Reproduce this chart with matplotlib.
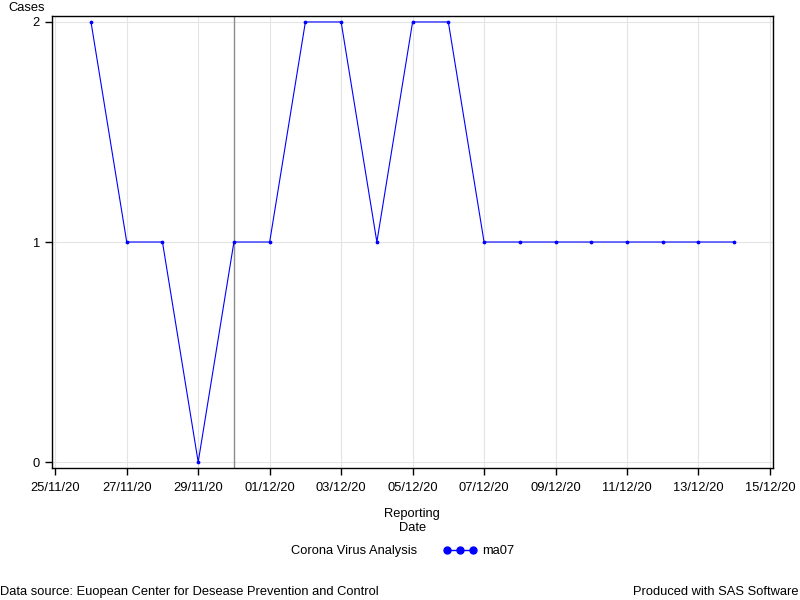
import matplotlib
matplotlib.use("Agg")
import matplotlib.pyplot as plt
import matplotlib.dates as mdates
from matplotlib.lines import Line2D
import numpy as np
import datetime as dt

plt.rcParams['font.family'] = ['Liberation Sans', 'DejaVu Sans']

dates = ["2020-11-26", "2020-11-27", "2020-11-28", "2020-11-29", "2020-11-30",
         "2020-12-01", "2020-12-02", "2020-12-03", "2020-12-04", "2020-12-05",
         "2020-12-06", "2020-12-07", "2020-12-08", "2020-12-09", "2020-12-10",
         "2020-12-11", "2020-12-12", "2020-12-13", "2020-12-14"]
ma07 = [2, 1, 1, 0, 1, 1, 2, 2, 1, 2, 2, 1, 1, 1, 1, 1, 1, 1, 1]
ref_date = "2020-11-30"
y_ticks = [0, 1, 2]

x = [dt.datetime.strptime(d, "%Y-%m-%d") for d in dates]
FS = 9.25

fig = plt.figure(figsize=(8, 6), dpi=100)
ax = fig.add_axes([0.0646, 0.22, 0.9014, 0.7533])

ax.plot(x, ma07, color='#0000ff', lw=0.8, marker='o', ms=1.7, zorder=3)
ax.axvline(dt.datetime.strptime(ref_date, "%Y-%m-%d"), color='#8c8c8c', lw=1.0, zorder=2)

ax.set_xlim(dt.datetime(2020, 11, 25) - dt.timedelta(days=0.1),
            dt.datetime(2020, 12, 15) + dt.timedelta(days=0.08))
ax.set_ylim(-0.027, 2.027)
ax.set_yticks(y_ticks)
ax.xaxis.set_major_locator(mdates.DayLocator(bymonthday=[25, 27, 29, 1, 3, 5, 7, 9, 11, 13, 15]))
ax.xaxis.set_major_formatter(mdates.DateFormatter("%d/%m/%y"))
ax.grid(True, color='#e4e4e4', lw=0.8, zorder=0)
ax.set_axisbelow(True)
ax.tick_params(direction='out', length=5, width=1, labelsize=FS, colors='black')
ax.tick_params(axis='x', pad=5)
for s in ax.spines.values():
    s.set_linewidth(1.0)
    s.set_color('black')

ax.set_xlabel("Reporting\nDate", fontsize=FS, labelpad=10, linespacing=1.25)
fig.text(0.01, 0.986, "Cases", fontsize=FS, ha='left', va='center')

# legend
fig.text(0.522, 0.081, "Corona Virus Analysis", fontsize=FS, ha='right', va='center')
h = Line2D([], [], color='#0000ff', lw=1.0, marker='o', ms=5)
fig.legend([h], ["ma07"], loc='center left', bbox_to_anchor=(0.546, 0.081),
           numpoints=3, handlelength=2.6, frameon=False, fontsize=FS,
           borderpad=0, handletextpad=0.4)

fig.text(0.0, 0.014, "Data source: Euopean Center for Desease Prevention and Control",
         fontsize=FS, ha='left', va='center')
fig.text(0.998, 0.014, "Produced with SAS Software", fontsize=FS, ha='right', va='center')

fig.savefig("out.png", dpi=100, facecolor='white')
